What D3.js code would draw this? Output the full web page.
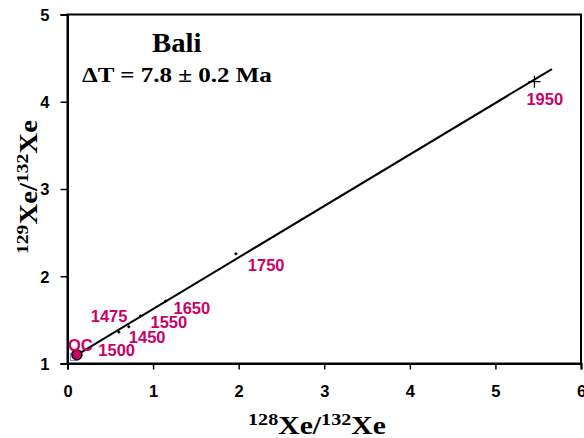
<!DOCTYPE html>
<html><head><meta charset="utf-8">
<script src="https://cdn.jsdelivr.net/npm/d3@7"></script>
<style>body{margin:0;background:#fff}svg{display:block}</style>
</head><body>
<script>
const labels = ["1950","1750","1650","1550","1475","1450","1500","OC"];
const xVals  = [5.456, 1.967, 1.145, 0.853, 0.716, 0.60, 0.08, 0.11];
const yVals  = [4.23, 2.258, 1.713, 1.544, 1.42, 1.36, 1.07, 1.10];
const lineX = [0.11, 5.66];
const lineY = [1.10, 4.375];
const xTicks = [0,1,2,3,4,5,6];
const yTicks = [1,2,3,4,5];

const W=584,H=438;
const svg=d3.select("body").append("svg").attr("width",W).attr("height",H);
const x=d3.scaleLinear().domain([0,6]).range([67.5,581]);
const y=d3.scaleLinear().domain([1,5]).range([363.5,14.5]);
const mag="#cc0066";
const sans="'Liberation Sans',Arial,sans-serif";
const serif="'Liberation Serif','Times New Roman',serif";

// frame
svg.append("rect").attr("x",x(0)).attr("y",y(5)).attr("width",x(6)-x(0)).attr("height",y(1)-y(5))
  .attr("fill","none").attr("stroke","#000").attr("stroke-width",2);

// axes
const xa=svg.append("g").attr("transform",`translate(0,${y(1)})`)
  .call(d3.axisBottom(x).tickValues(xTicks).tickSize(6).tickPadding(16).tickFormat(d3.format("d")));
const ya=svg.append("g").attr("transform",`translate(${x(0)},0)`)
  .call(d3.axisLeft(y).tickValues(yTicks).tickSize(7).tickPadding(11).tickFormat(d3.format("d")));
[xa,ya].forEach(g=>{
  g.select(".domain").attr("stroke-width",2);
  g.selectAll(".tick line").attr("stroke-width",1.5);
  g.selectAll("text").attr("font-family",sans).attr("font-weight","bold").attr("font-size",16.5).attr("fill","#000");
});
ya.selectAll("text").attr("dy","0.36em");

// regression line
svg.append("line").attr("x1",x(lineX[0])).attr("y1",y(lineY[0])).attr("x2",x(lineX[1])).attr("y2",y(lineY[1]))
  .attr("stroke","#000").attr("stroke-width",2);

// markers
const pts=labels.map((l,i)=>({l,x:xVals[i],y:yVals[i]}));
pts.forEach(p=>{
  const px=x(p.x),py=y(p.y);
  if(p.l==="OC") return;
  if(p.l==="1500"){
    svg.append("rect").attr("x",px-4).attr("y",py-4).attr("width",7).attr("height",7)
      .attr("fill","none").attr("stroke","#6680ff").attr("stroke-width",1);
    return;
  }
  const a=p.l==="1950"?6:1.5;
  svg.append("path").attr("d",`M${px-a},${py}H${px+a}M${px},${py-a}V${py+a}`)
    .attr("stroke","#000").attr("stroke-width",p.l==="1950"?1.2:1.5);
});
const oc=pts.find(p=>p.l==="OC");
svg.append("circle").attr("cx",x(oc.x)).attr("cy",y(oc.y)).attr("r",5)
  .attr("fill",mag).attr("stroke","#000").attr("stroke-width",1.5);

// labels
const off={"1950":[-8,23],"1750":[12,17],"1650":[8,13],"1550":[10,12],"1475":[-38,-5],"1450":[10,11],"1500":[24,-1],"OC":[-9,-4]};
pts.forEach(p=>{
  svg.append("text").attr("x",x(p.x)+off[p.l][0]).attr("y",y(p.y)+off[p.l][1])
    .attr("font-family",sans).attr("font-weight","bold").attr("font-size",16.5).attr("fill",mag).text(p.l);
});

// stretched serif text helper: centered at (cx, baseline), target width w
function stretched(parent, cx, base, w, size, build){
  const g=parent.append("g");
  const t=g.append("text").attr("x",0).attr("y",0)
    .attr("font-family",serif).attr("font-weight","bold").attr("font-size",size);
  build(t);
  const bb=t.node().getBBox();
  const s=w/bb.width;
  t.attr("x",-bb.x-bb.width/2);
  g.attr("transform",`translate(${cx},${base}) scale(${s},1)`);
  return g;
}
stretched(svg,177,52,50,27,t=>t.text("Bali"));
stretched(svg,177,82,190,22,t=>t.text("ΔT = 7.8 ± 0.2 Ma"));

function xeTitle(t,a,b){
  t.append("tspan").attr("font-size",17).attr("dy",-9).text(a);
  t.append("tspan").attr("dy",9).text("Xe/");
  t.append("tspan").attr("font-size",17).attr("dy",-9).text(b);
  t.append("tspan").attr("dy",9).text("Xe");
}
stretched(svg,317,434,138,25,t=>xeTitle(t,"128","132"));
const yg=svg.append("g").attr("transform","translate(36.5,187) rotate(-90)");
stretched(yg,0,0,134,25,t=>xeTitle(t,"129","132"));
</script>
</body></html>
